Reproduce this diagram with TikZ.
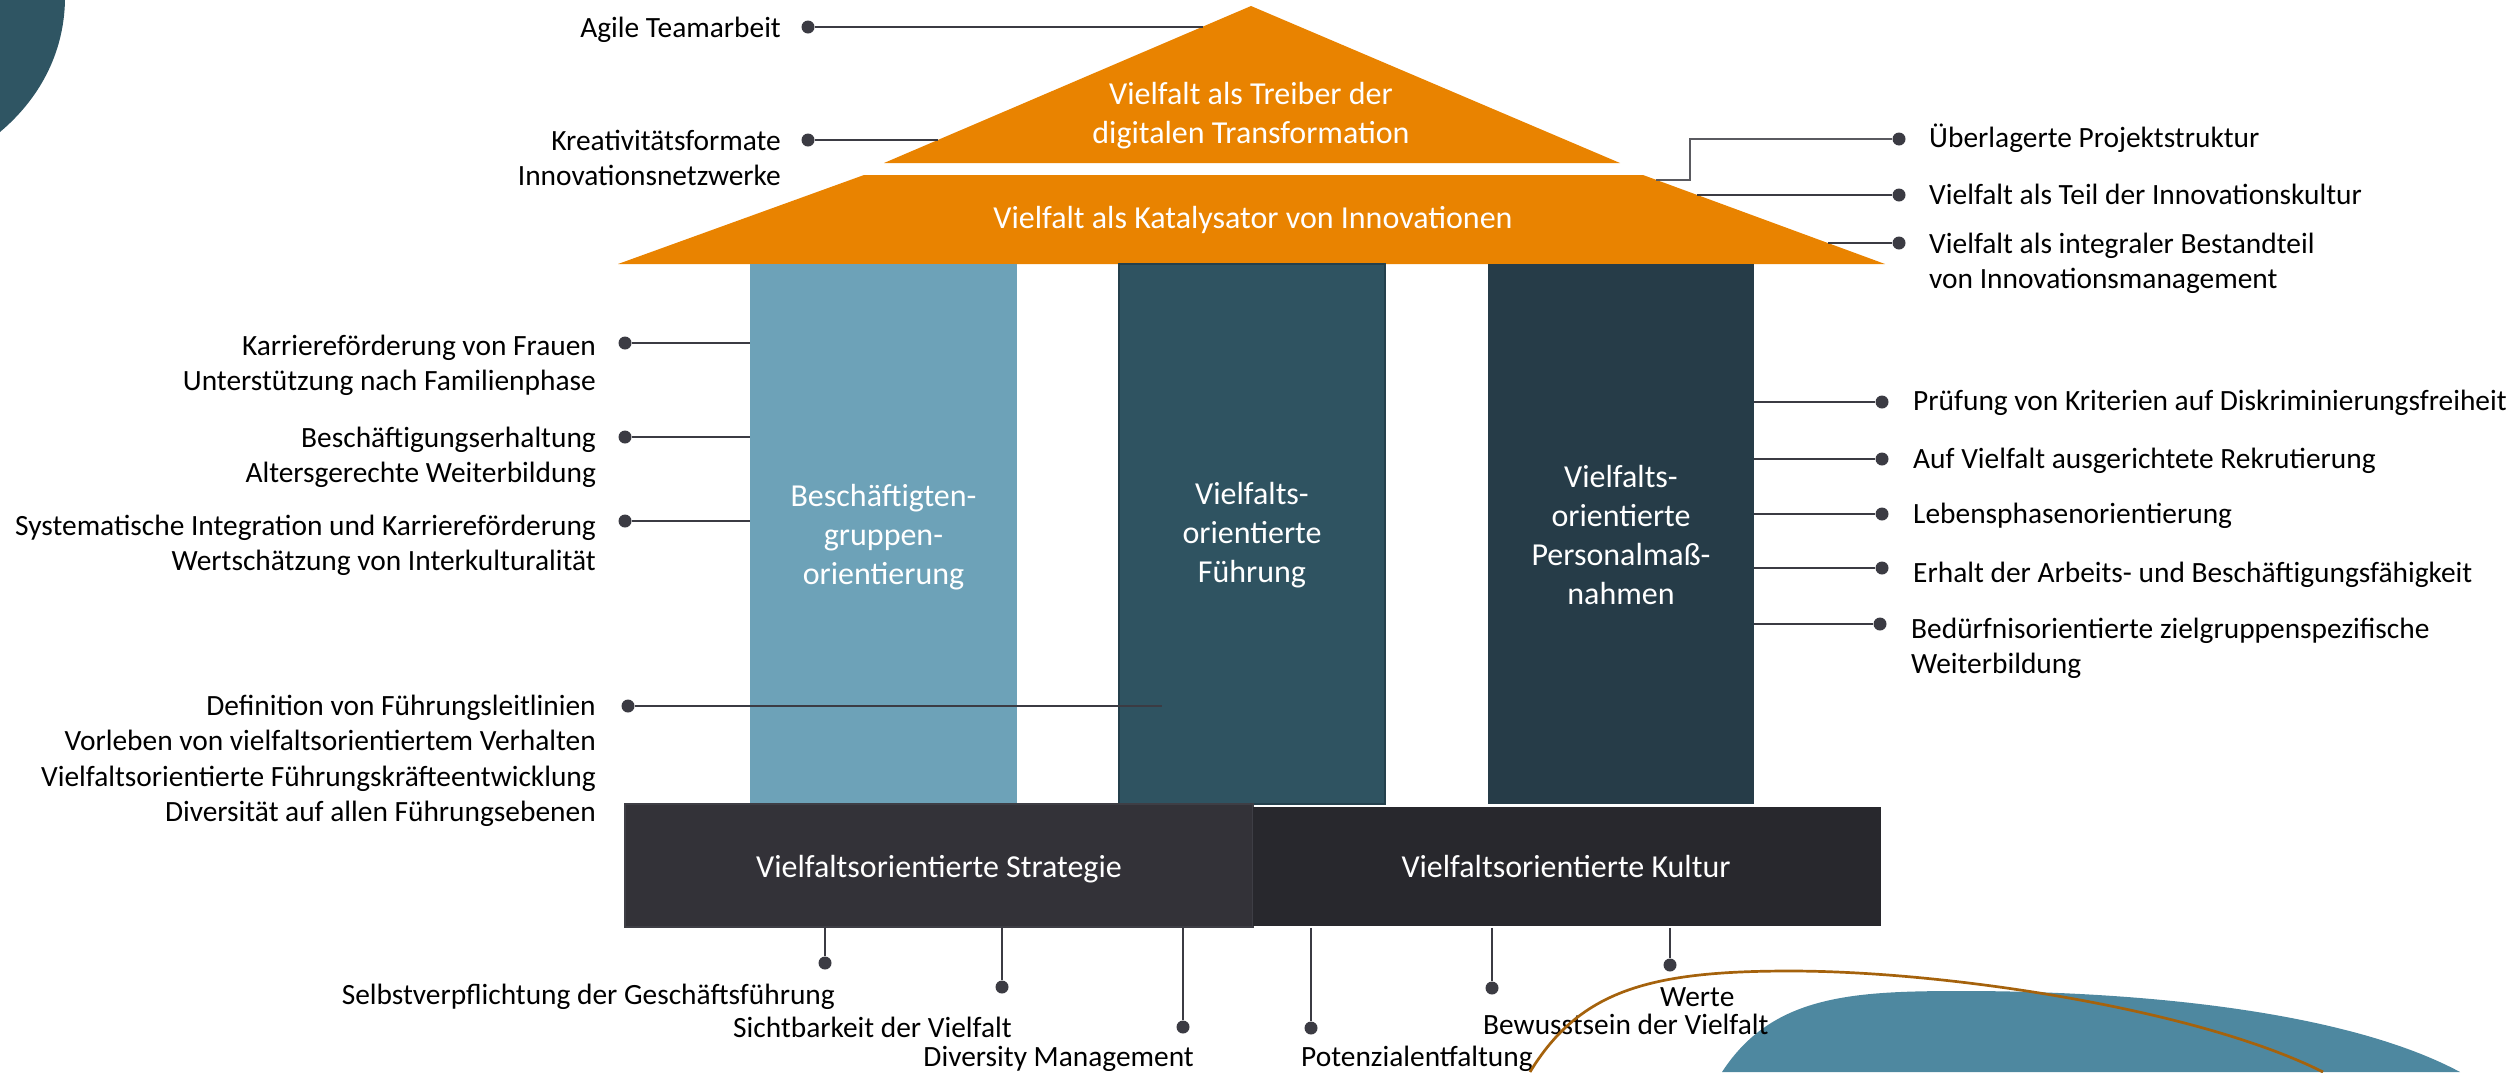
\documentclass[tikz,border=0pt]{standalone}
\usepackage{fontspec}
\setmainfont{Carlito}
\definecolor{orng}{HTML}{E98300}
\definecolor{tealdk}{HTML}{2F5563}
\definecolor{tealbl}{HTML}{4E88A0}
\definecolor{p1c}{HTML}{6DA2B8}
\definecolor{p2c}{HTML}{2F5361}
\definecolor{p2b}{HTML}{24404C}
\definecolor{p3c}{HTML}{263C48}
\definecolor{base1}{HTML}{333238}
\definecolor{base1b}{HTML}{3E3E45}
\definecolor{base2}{HTML}{28282D}
\definecolor{linec}{HTML}{3B3B43}
\definecolor{elbowc}{HTML}{5A5A60}
\definecolor{brownc}{HTML}{A5620C}
\begin{document}
\begin{tikzpicture}[x=1pt,y=-1pt,
  lbl/.style={font=\fontsize{29.4}{35}\selectfont, text=black, inner sep=0pt},
  wlbl/.style={font=\fontsize{32}{39}\selectfont, text=white, align=center, inner sep=0pt},
  conn/.style={draw=linec, line width=2.4pt},
  bconn/.style={draw=linec, line width=2pt},
  dot/.style={circle, fill=linec, inner sep=0pt, minimum size=13pt},
  pillar/.style={rectangle, inner sep=0pt, minimum width=266pt, minimum height=540pt, wlbl},
  basebox/.style={rectangle, inner sep=0pt, minimum width=628pt, minimum height=123pt},
]
\useasboundingbox (0,0) rectangle (2516,1072);
\clip (0,0) rectangle (2516,1072);

% decorations (background)
\fill[tealdk] (0,0) -- (65,0) .. controls (64,55) and (38,100) .. (0,132) -- cycle;
\fill[tealbl] (1722,1072) .. controls (1772,995) and (1852,991) .. (1962,991)
  .. controls (2150,991) and (2350,1013) .. (2460,1072) -- cycle;

% roof
\coordinate (triA) at (1251,6);
\coordinate (triL) at (884,163);
\coordinate (triR) at (1620,163);
\fill[orng] (triA) -- (triL) -- (triR) -- cycle;
\node[wlbl] (tTri) at (1251,116) {Vielfalt als Treiber der\\digitalen Transformation};

\coordinate (trTL) at (864,175);
\coordinate (trTR) at (1643,175);
\coordinate (trBR) at (1885,264);
\coordinate (trBL) at (618,264);
\fill[orng] (trTL) -- (trTR) -- (trBR) -- (trBL) -- cycle;
\node[wlbl] (tTrap) at (1253,220) {Vielfalt als Katalysator von Innovationen};

% pillars
\node[pillar, fill=p1c, minimum width=267pt] (P1) at (883.5,534) {};
\node[wlbl] (tP1) at (883.5,537) {Beschäftigten-\\gruppen-\\orientierung};
\node[pillar, fill=p2c, draw=p2b, line width=2pt] (P2) at (1252,534) {};
\node[wlbl] (tP2) at (1252,535) {Vielfalts-\\orientierte\\Führung};
\node[pillar, fill=p3c] (P3) at (1621,534) {};
\node[wlbl] (tP3) at (1621,535) {Vielfalts-\\orientierte\\Personalmaß-\\nahmen};

% base
\node[basebox, fill=base1, draw=base1b, line width=1.5pt] (B1) at (939,865.5) {};
\node[basebox, fill=base2, minimum height=119pt] (B2) at (1567,866) {};
\node[wlbl, anchor=base] (tB1) at (939,877) {Vielfaltsorientierte Strategie};
\node[wlbl, anchor=base] (tB2) at (1566,877) {Vielfaltsorientierte Kultur};

% ---------- left labels ----------
\node[lbl, anchor=base east] (tAgile) at (781,37) {Agile Teamarbeit};
\node[lbl, anchor=base east] (tKrea1) at (781,150) {Kreativitätsformate};
\node[lbl, anchor=base east] (tKrea2) at (781,185) {Innovationsnetzwerke};
\node[lbl, anchor=base east] (tKar1) at (596,355) {Karriereförderung von Frauen};
\node[lbl, anchor=base east] (tKar2) at (596,390) {Unterstützung nach Familienphase};
\node[lbl, anchor=base east] (tBes1) at (596,447) {Beschäftigungserhaltung};
\node[lbl, anchor=base east] (tBes2) at (596,482) {Altersgerechte Weiterbildung};
\node[lbl, anchor=base east] (tSys1) at (596,535) {Systematische Integration und Karriereförderung};
\node[lbl, anchor=base east] (tSys2) at (596,570) {Wertschätzung von Interkulturalität};
\node[lbl, anchor=base east] (tDef1) at (596,715) {Definition von Führungsleitlinien};
\node[lbl, anchor=base east] (tDef2) at (596,750) {Vorleben von vielfaltsorientiertem Verhalten};
\node[lbl, anchor=base east] (tDef3) at (596,786) {Vielfaltsorientierte Führungskräfteentwicklung};
\node[lbl, anchor=base east] (tDef4) at (596,821) {Diversität auf allen Führungsebenen};

% ---------- right labels ----------
\node[lbl, anchor=base west] (tUeb) at (1929,147) {Überlagerte Projektstruktur};
\node[lbl, anchor=base west] (tTeil) at (1929,204) {Vielfalt als Teil der Innovationskultur};
\node[lbl, anchor=base west] (tInt1) at (1929,253) {Vielfalt als integraler Bestandteil};
\node[lbl, anchor=base west] (tInt2) at (1929,288) {von Innovationsmanagement};
\node[lbl, anchor=base west] (tPru) at (1913,410) {Prüfung von Kriterien auf Diskriminierungsfreiheit};
\node[lbl, anchor=base west] (tAuf) at (1913,468) {Auf Vielfalt ausgerichtete Rekrutierung};
\node[lbl, anchor=base west] (tLeb) at (1913,523) {Lebensphasenorientierung};
\node[lbl, anchor=base west] (tErh) at (1913,582) {Erhalt der Arbeits- und Beschäftigungsfähigkeit};
\node[lbl, anchor=base west] (tBed1) at (1911,638) {Bedürfnisorientierte zielgruppenspezifische};
\node[lbl, anchor=base west] (tBed2) at (1911,673) {Weiterbildung};

% ---------- bottom labels ----------
\node[lbl, anchor=base east] (tSel) at (835,1004) {Selbstverpflichtung der Geschäftsführung};
\node[lbl, anchor=base east] (tSic) at (1012,1037) {Sichtbarkeit der Vielfalt};
\node[lbl, anchor=base east] (tDiv) at (1194,1066) {Diversity Management};
\node[lbl, anchor=base west] (tPot) at (1301,1066) {Potenzialentfaltung};
\node[lbl, anchor=base west] (tBew) at (1483,1034) {Bewusstsein der Vielfalt};
\node[lbl, anchor=base west] (tWer) at (1660,1006) {Werte};

% ---------- dots ----------
\node[dot] (dAgile) at (808,27) {};
\node[dot] (dKrea) at (808,140) {};
\node[dot] (dKar) at (625,343) {};
\node[dot] (dBes) at (625,437) {};
\node[dot] (dSys) at (625,521) {};
\node[dot] (dDef) at (628,706) {};
\node[dot] (dUeb) at (1899,139) {};
\node[dot] (dTeil) at (1899,195) {};
\node[dot] (dInt) at (1899,243) {};
\node[dot] (dPru) at (1882,402) {};
\node[dot] (dAuf) at (1882,459) {};
\node[dot] (dLeb) at (1882,514) {};
\node[dot] (dErh) at (1882,568) {};
\node[dot] (dBed) at (1880,624) {};
\node[dot] (dSel) at (825,963) {};
\node[dot] (dSic) at (1002,987) {};
\node[dot] (dDiv) at (1183,1027) {};
\node[dot] (dPot) at (1311,1028) {};
\node[dot] (dBew) at (1492,988) {};
\node[dot] (dWer) at (1670,965) {};

% ---------- edge points ----------
\coordinate (eAgile) at (1203,27);
\coordinate (eKrea) at (938,140);
\coordinate (eUebA) at (1690,139);
\coordinate (eUebB) at (1690,180);
\coordinate (eUeb) at (1656,180);
\coordinate (eTeil) at (1697,195);
\coordinate (eInt) at (1828,243);
\coordinate (eDef) at (1162,706);

% ---------- connectors ----------
\draw[conn] (dAgile) -- (eAgile);
\draw[conn] (dKrea) -- (eKrea);
\draw[conn] (dKar) -- (dKar -| P1.west);
\draw[conn] (dBes) -- (dBes -| P1.west);
\draw[conn] (dSys) -- (dSys -| P1.west);
\draw[conn] (dDef) -- (eDef);
\draw[draw=elbowc, line width=1.8pt] (dUeb) -- (eUebA) -- (eUebB) -- (eUeb);
\draw[conn] (eTeil) -- (dTeil);
\draw[conn] (eInt) -- (dInt);
\draw[conn] (P3.east |- dPru) -- (dPru);
\draw[conn] (P3.east |- dAuf) -- (dAuf);
\draw[conn] (P3.east |- dLeb) -- (dLeb);
\draw[conn] (P3.east |- dErh) -- (dErh);
\draw[conn] (P3.east |- dBed) -- (dBed);
\draw[bconn] (B1.south -| dSel) -- (dSel);
\draw[bconn] (B1.south -| dSic) -- (dSic);
\draw[bconn] (B1.south -| dDiv) -- (dDiv);
\draw[bconn] (B1.south -| dPot) -- (dPot);
\draw[bconn] (B1.south -| dBew) -- (dBew);
\draw[bconn] (B1.south -| dWer) -- (dWer);

% ---------- brown curve (on top) ----------
\draw[brownc, line width=2.7pt] (1530,1072) .. controls (1580,990) and (1650,971) .. (1790,971)
  .. controls (1950,971) and (2200,1010) .. (2323,1072);
\end{tikzpicture}
\end{document}
